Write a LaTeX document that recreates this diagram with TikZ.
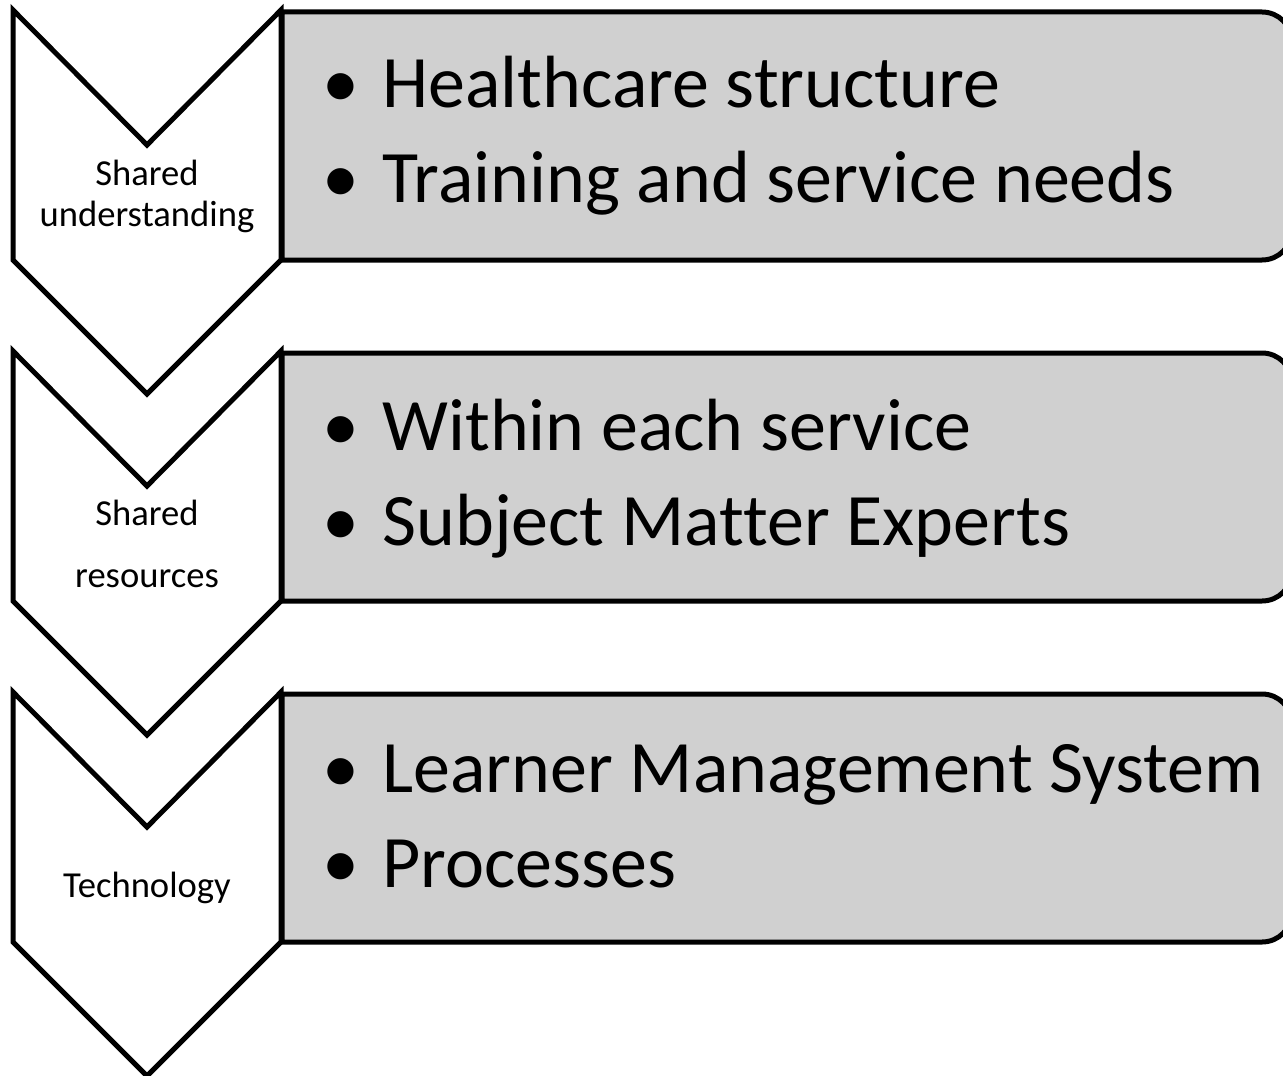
\documentclass[tikz,border=0pt]{standalone}
\usepackage{fontspec}
\setmainfont[Ligatures=NoCommon]{Carlito}
\definecolor{panelgray}{RGB}{208,208,208}

\begin{document}
\begin{tikzpicture}[x=0.5pt,y=-0.5pt,
  chevron/.style={draw,line width=2.5pt,fill=white,line join=miter},
  panel/.style={draw,line width=2.5pt,fill=panelgray},
  steplabel/.style={anchor=base,inner sep=0pt,font=\fontsize{18.3}{21}\selectfont},
  item/.style={anchor=base west,inner sep=0pt,font=\fontsize{37}{44}\selectfont},
  dot/.style={anchor=base,inner sep=0pt,font=\fontsize{37}{44}\selectfont}]
  \useasboundingbox (0,0) rectangle (1283,1075);

  % panels
  \draw[panel] (282,12) -- (1262,12) arc[start angle=90,end angle=0,radius=15pt]
    -- (1292,230) arc[start angle=0,end angle=-90,radius=15pt] -- (282,260) -- cycle;
  \draw[panel] (282,353) -- (1262,353) arc[start angle=90,end angle=0,radius=15pt]
    -- (1292,571) arc[start angle=0,end angle=-90,radius=15pt] -- (282,601) -- cycle;
  \draw[panel] (282,694) -- (1262,694) arc[start angle=90,end angle=0,radius=15pt]
    -- (1292,912) arc[start angle=0,end angle=-90,radius=15pt] -- (282,942) -- cycle;

  % chevrons
  \draw[chevron] (13,10) -- (147,145) -- (281,10) -- (281,260) -- (147,394) -- (13,260) -- cycle;
  \draw[chevron] (13,351) -- (147,486) -- (281,351) -- (281,601) -- (147,735) -- (13,601) -- cycle;
  \draw[chevron] (13,692) -- (147,827) -- (281,692) -- (281,942) -- (147,1076) -- (13,942) -- cycle;

  % step labels
  \node[steplabel] (su1) at (147,185) {Shared};
  \node[steplabel] (su2) at (147,227) {understanding};
  \node[steplabel] (sr1) at (147,525) {Shared};
  \node[steplabel] (sr2) at (147,587) {resources};
  \node[steplabel] (te1) at (147,897) {Technology};

  % bullet items
  \node[dot] (d1) at (341,108) {\textbullet};
  \node[item] (hc) at (382,108) {Healthcare structure};
  \node[dot] (d2) at (341,203) {\textbullet};
  \node[item] (tr) at (382,203) {Training and service needs};
  \node[dot] (d3) at (341,450) {\textbullet};
  \node[item] (wi) at (382,450) {Within each service};
  \node[dot] (d4) at (341,545) {\textbullet};
  \node[item] (sm) at (382,545) {Subject Matter Experts};
  \node[dot] (d5) at (341,792) {\textbullet};
  \node[item] (lm) at (382,792) {Learner Management System};
  \node[dot] (d6) at (341,887) {\textbullet};
  \node[item] (pr) at (382,887) {Processes};
\end{tikzpicture}
\end{document}
